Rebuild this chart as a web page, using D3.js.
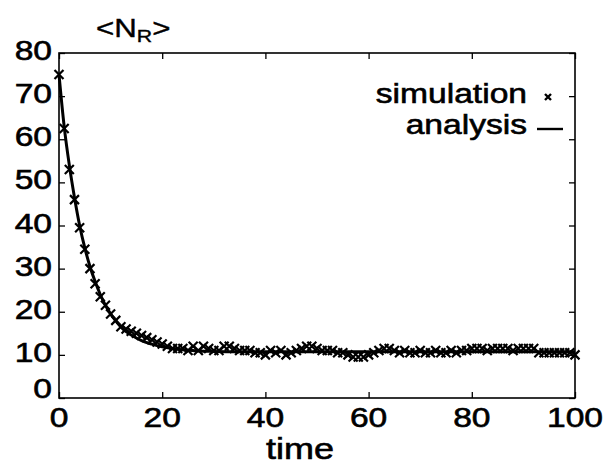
<!DOCTYPE html>
<html>
<head>
<meta charset="utf-8">
<script src="https://cdn.jsdelivr.net/npm/d3@7"></script>
<style>
  body { margin: 0; background: #fff; }
  svg { display: block; font-family: "Liberation Sans", Arial, sans-serif; }
</style>
</head>
<body>
<div id="chart"></div>
<script>
// simulation points, one per time unit (t = 0..100)
const simValues = [
  75, 62.5, 53, 46, 39.5, 34.5, 30, 26.5, 23.5, 21.5,
  19.5, 18, 16.5, 16, 15.5, 15, 14.5, 14, 13.5, 13,
  12.5, 12, 11.5, 11.5, 11.5, 11, 12, 11, 12, 11.5,
  11, 11, 12, 12, 11.5, 11, 11, 11, 10.5, 10.5,
  10, 11, 10.5, 11, 10, 10.5, 11, 11.5, 12, 12,
  11.5, 11, 11, 11, 10.5, 10.5, 10, 9.5, 9.5, 9.5,
  10, 10.5, 11, 11.5, 11.5, 11, 10.5, 11, 10.5, 10.5,
  11, 10.5, 10.5, 11, 10.5, 10.5, 11, 10.5, 11, 11,
  11.5, 11.5, 11.5, 11, 11.5, 11.5, 11.5, 11.5, 11, 11.5,
  11.5, 11.5, 11.5, 10.5, 10.5, 10.5, 10.5, 10.5, 10.5, 10.5,
  10
];

// analysis curve
const anaTimes  = [0, 1, 2, 3, 4, 5, 6, 7, 8, 9, 10, 11, 12, 13, 14, 15, 16, 18, 20, 22, 25, 30, 35, 40, 50, 60, 70, 80, 90, 100];
const anaValues = [75, 63, 54, 46.5, 40, 34.8, 30.5, 27, 24, 21.5, 19.5, 17.9, 16.5, 15.4, 14.6, 13.9, 13.3, 12.5, 11.9, 11.5, 11.1, 10.8, 10.7, 10.7, 10.7, 10.7, 10.7, 10.7, 10.7, 10.7];

const xTicks = [0, 20, 40, 60, 80, 100];
const yTicks = [0, 10, 20, 30, 40, 50, 60, 70, 80];

const width = 606, height = 468;
const margin = { top: 53, right: 31, bottom: 70, left: 59 };
const sx = 1.2; // glyphs in the scan are a bit wide

const svg = d3.select("#chart").append("svg")
  .attr("width", width)
  .attr("height", height);

const x = d3.scaleLinear().domain([0, 100]).range([margin.left, width - margin.right]);
const y = d3.scaleLinear().domain([0, 80]).range([height - margin.bottom, margin.top]);

const tick = -6;

// axes with inward ticks on all four sides
svg.append("g").attr("transform", `translate(0,${y(0)})`)
  .call(d3.axisBottom(x).tickValues(xTicks).tickSize(tick).tickFormat(""));
svg.append("g").attr("transform", `translate(0,${y(80)})`)
  .call(d3.axisTop(x).tickValues(xTicks).tickSize(tick).tickFormat(""));
svg.append("g").attr("transform", `translate(${x(0)},0)`)
  .call(d3.axisLeft(y).tickValues(yTicks).tickSize(tick).tickFormat(""));
svg.append("g").attr("transform", `translate(${x(100)},0)`)
  .call(d3.axisRight(y).tickValues(yTicks).tickSize(tick).tickFormat(""));

svg.selectAll(".domain").remove();
svg.selectAll(".tick line").attr("stroke", "#000").attr("stroke-width", 1.3);

svg.append("rect")
  .attr("x", x(0)).attr("y", y(80))
  .attr("width", x(100) - x(0)).attr("height", y(0) - y(80))
  .attr("fill", "none").attr("stroke", "#000").attr("stroke-width", 1.6);

function label(px, py, txt, size, anchor) {
  return svg.append("text")
    .attr("transform", `translate(${px},${py}) scale(${sx},1)`)
    .attr("text-anchor", anchor)
    .attr("font-size", size)
    .attr("fill", "#000")
    .attr("stroke", "#000")
    .attr("stroke-width", 0.6)
    .text(txt);
}

// tick labels
xTicks.forEach(t => label(x(t), y(0) + 29, t, 28, "middle"));
yTicks.forEach(t => label(x(0) - 7, t === 0 ? y(0) : y(t) + 7, t, 28, "end"));

// axis titles
label(300, 459, "time", 30, "middle");
const yt = svg.append("text")
  .attr("transform", `translate(96,37) scale(1.25,1)`)
  .attr("font-size", 25)
  .attr("fill", "#000")
  .attr("stroke", "#000")
  .attr("stroke-width", 0.4);
yt.append("tspan").text("<N");
yt.append("tspan").attr("font-size", 17).attr("dy", 5).text("R");
yt.append("tspan").attr("dy", -5).text(">");

// analysis line
const line = d3.line()
  .x((d, i) => x(anaTimes[i]))
  .y(d => y(d))
  .curve(d3.curveMonotoneX);

svg.append("path")
  .datum(anaValues)
  .attr("d", line)
  .attr("fill", "none")
  .attr("stroke", "#000")
  .attr("stroke-width", 3);

// simulation crosses
const cross = (s) => `M${-s},${-s}L${s},${s}M${-s},${s}L${s},${-s}`;

svg.append("g")
  .selectAll("path")
  .data(simValues)
  .join("path")
  .attr("transform", (d, i) => `translate(${x(i)},${y(d)})`)
  .attr("d", cross(4.5))
  .attr("stroke", "#000")
  .attr("stroke-width", 2.2)
  .attr("fill", "none");

// legend
label(527, 103, "simulation", 28, "end");
label(527, 134, "analysis", 28, "end");
svg.append("path")
  .attr("transform", "translate(548,97)")
  .attr("d", cross(3))
  .attr("stroke", "#000").attr("stroke-width", 2.4);
svg.append("line")
  .attr("x1", 537).attr("x2", 563)
  .attr("y1", 129).attr("y2", 129)
  .attr("stroke", "#000").attr("stroke-width", 2.4);
</script>
</body>
</html>
